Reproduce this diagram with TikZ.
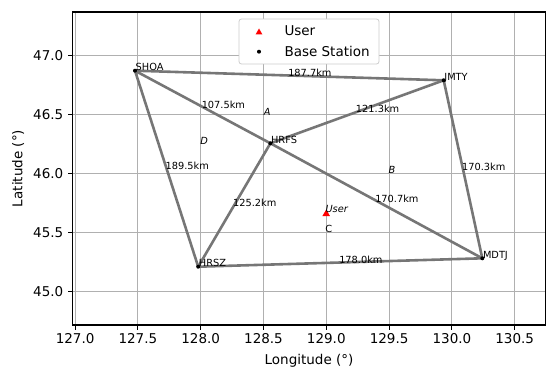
\documentclass[tikz,border=0pt]{standalone}
\usepackage{fontspec}
\setmainfont{DejaVu Sans}
\usetikzlibrary{shapes.geometric}
\definecolor{edgegray}{RGB}{118,118,118}
\definecolor{gridgray}{RGB}{176,176,176}
\definecolor{legendedge}{RGB}{204,204,204}
\begin{document}
\begin{tikzpicture}[x=1pt,y=-1pt,
  edge/.style={draw=edgegray, line width=2.6pt},
  stdot/.style={circle, fill=black, inner sep=0pt, minimum size=4pt},
  stlabel/.style={anchor=base west, inner sep=0pt, font=\fontsize{9.8}{11}\selectfont},
  dist/.style={inner sep=0pt, font=\fontsize{9.8}{11}\selectfont},
  region/.style={inner sep=0pt, font=\fontsize{9.8}{11}\selectfont\itshape},
  big/.style={inner sep=0pt, font=\fontsize{13.5}{16}\selectfont},
  usermark/.style={regular polygon, regular polygon sides=3, fill=red, inner sep=0pt, minimum size=9pt},
  gridline/.style={draw=gridgray, line width=1pt},
  tickmark/.style={draw=black, line width=1pt}]
\useasboundingbox (0,0) rectangle (550,369);
% axes corners
\coordinate (bl) at (72.6,325);
\coordinate (tr) at (545.4,12);
% grid and ticks
\foreach \v/\t [count=\i] in {75.1/127.0,137.9/127.5,200.7/128.0,263.5/128.5,326.3/129.0,389.1/129.5,451.9/130.0,514.7/130.5}{
  \coordinate (gx\i) at (\v,12);
  \coordinate (gxb\i) at (\v,325);
  \coordinate (gxt\i) at (\v,330);
  \draw[gridline] (gx\i) -- (gxb\i);
  \draw[tickmark] (gxb\i) -- (gxt\i);
  \node[big, anchor=north] (xl\i) at (\v,333) {\t};
}
\foreach \v/\t [count=\i] in {291.3/45.0,232.4/45.5,173.5/46.0,114.6/46.5,55.7/47.0}{
  \coordinate (gy\i) at (72.6,\v);
  \coordinate (gyr\i) at (545.4,\v);
  \coordinate (gyt\i) at (67.6,\v);
  \draw[gridline] (gy\i) -- (gyr\i);
  \draw[tickmark] (gy\i) -- (gyt\i);
  \node[big, anchor=east] (yl\i) at (63.5,\v) {\t};
}
% stations
\coordinate (SHOA) at (135.0,70.7);
\coordinate (JMTY) at (443.7,80.3);
\coordinate (HRFS) at (270.4,143.3);
\coordinate (HRSZ) at (198.2,266.7);
\coordinate (MDTJ) at (482.3,258.3);
% edges
\draw[edge] (SHOA) -- (JMTY);
\draw[edge] (SHOA) -- (HRFS);
\draw[edge] (HRFS) -- (MDTJ);
\draw[edge] (SHOA) -- (HRSZ);
\draw[edge] (JMTY) -- (HRFS);
\draw[edge] (HRFS) -- (HRSZ);
\draw[edge] (JMTY) -- (MDTJ);
\draw[edge] (HRSZ) -- (MDTJ);
% dots
\foreach \s in {SHOA,JMTY,HRFS,HRSZ,MDTJ}{
  \node[stdot] (dot\s) at (\s) {};
  \node[stlabel] (lab\s) at ([xshift=0.5pt]\s) {\s};
}
% user
\node[usermark] (user) at (326.2,214) {};
\node[region] (userlab) at (336.7,209.3) {User};
% distances
\node[dist] (d1) at (309.9,73) {187.7km};
\node[dist] (d2) at (223.4,104.7) {107.5km};
\node[dist] (d3) at (377.6,109.3) {121.3km};
\node[dist] (d4) at (187.3,166.3) {189.5km};
\node[dist] (d5) at (483.7,167) {170.3km};
\node[dist] (d6) at (254.8,202.7) {125.2km};
\node[dist] (d7) at (396.9,199) {170.7km};
\node[dist] (d8) at (360.9,260) {178.0km};
% region letters
\node[region] (rA) at (267.3,111.7) {A};
\node[region] (rD) at (204.1,140.7) {D};
\node[region] (rB) at (392.1,170) {B};
\node[dist] (rC) at (328.7,229) {C};
% legend
\node[draw=legendedge, fill=white, line width=0.8pt, rounded corners=2.5pt, minimum width=140pt, minimum height=45pt, inner sep=0pt] (legend) at (309,41.5) {};
\node[usermark, minimum size=8pt] (legtri) at (259,32.5) {};
\node[stdot] (legdot) at (259,51.7) {};
\node[big, anchor=west] (legu) at (284.3,30.7) {User};
\node[big, anchor=west] (legb) at (284.3,51.7) {Base Station};
% spines
\draw[line width=1.1pt] (bl) rectangle (tr);
% axis labels
\node[big] (xlab) at (309,360.7) {Longitude (°)};
\node[big, rotate=90] (ylab) at (18.2,168.5) {Latitude (°)};
\end{tikzpicture}
\end{document}
